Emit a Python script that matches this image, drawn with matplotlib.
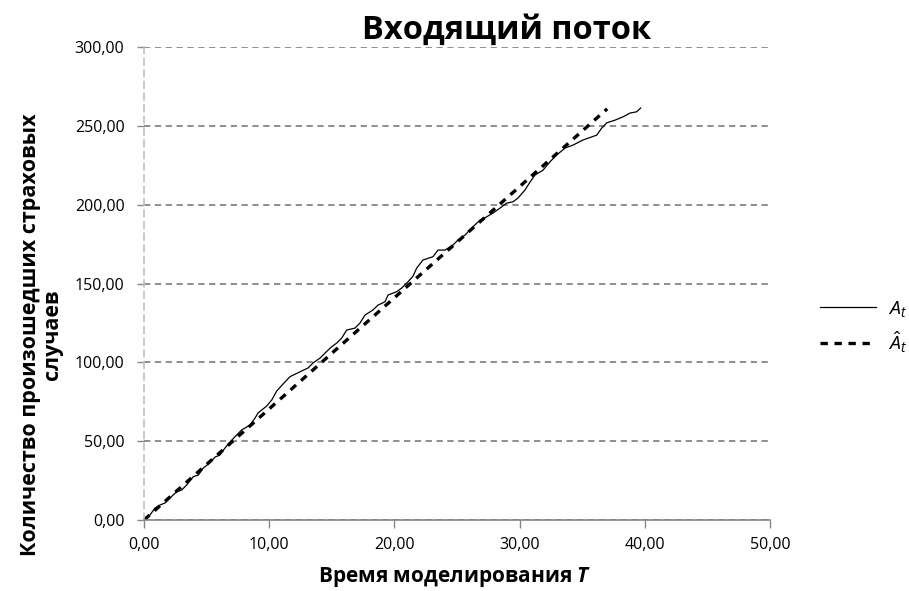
import numpy as np
import matplotlib.pyplot as plt
from matplotlib.ticker import FuncFormatter

t_obs = [0, 0.22, 0.48, 0.88, 1.28, 1.68, 2.08, 2.61, 3.01, 3.41, 3.94, 4.34, 4.74,
         5.27, 5.67, 6.07, 6.47, 6.87, 7.40, 7.80, 8.47, 8.87, 9.11, 9.80, 10.20,
         10.60, 11.10, 11.66, 12.46, 13.10, 13.50, 14.06, 14.46, 14.99, 15.39, 15.79,
         16.19, 16.85, 17.25, 17.65, 18.29, 18.69, 19.25, 19.49, 20.18, 20.58, 21.09,
         21.49, 21.78, 22.28, 23.08, 23.48, 24.04, 24.68, 25.08, 25.64, 26.17, 26.84,
         27.37, 27.88, 28.43, 28.97, 29.47, 29.87, 30.43, 30.83, 31.23, 31.87, 32.43,
         32.96, 33.63, 34.27, 35.06, 36.16, 36.56, 36.96, 37.62, 38.26, 38.82, 39.35, 39.67]
a_obs = [0, 1.7, 3.2, 7.6, 9.5, 10.8, 14.0, 17.9, 19.0, 22.2, 27.5, 28.5, 33.0,
         36.3, 39.9, 41.2, 45.7, 49.5, 53.9, 57.1, 60.2, 64.7, 67.9, 72.3, 76.1,
         81.8, 86.2, 90.9, 94.0, 96.4, 99.6, 102.7, 105.9, 109.9, 112.2, 115.4,
         120.5, 121.7, 124.9, 130.0, 133.2, 136.3, 138.4, 142.7, 144.8, 147.1, 151.1,
         154.7, 159.8, 164.9, 167.0, 171.2, 171.2, 174.4, 177.6, 180.7, 185.2, 190.2,
         192.3, 194.7, 197.8, 201.0, 201.8, 204.2, 209.3, 214.3, 218.8, 221.9, 227.2,
         231.5, 235.9, 237.8, 241.0, 244.1, 248.6, 251.9, 253.6, 255.7, 258.1, 258.9, 261.3]

# Expected count A_hat_t (straight line)
t_exp = [0, 37.0]
a_exp = [0, 260.8]

plt.rcParams['font.family'] = ['Open Sans', 'DejaVu Sans']
plt.rcParams['mathtext.fontset'] = 'custom'
plt.rcParams['mathtext.it'] = 'Open Sans:italic'
plt.rcParams['mathtext.bf'] = 'Open Sans:bold:italic'
plt.rcParams['mathtext.rm'] = 'Open Sans'

fig = plt.figure(figsize=(9.09, 5.91), dpi=100)
ax = fig.add_axes([144 / 909, 1 - 520 / 591, 626 / 909, 473 / 591])

ax.plot(t_obs, a_obs, color='black', linewidth=0.9, label='$A_t$')
ax.plot(t_exp, a_exp, color='black', linewidth=2.4, dashes=(2.2, 2.0), label=r'$\hat{A}_t$')

ax.set_xlim(0, 50)
ax.set_ylim(0, 300)
ax.set_xticks(np.arange(0, 51, 10))
ax.set_yticks(np.arange(0, 301, 50))
fmt = FuncFormatter(lambda v, p: f'{v:.2f}'.replace('.', ','))
ax.xaxis.set_major_formatter(fmt)
ax.yaxis.set_major_formatter(fmt)
ax.tick_params(axis='both', labelsize=11.5, colors='#868686', labelcolor='black')
ax.tick_params(axis='x', length=6, width=1, direction='out', pad=6)
ax.tick_params(axis='y', length=5, width=1, direction='out', pad=9)

ax.yaxis.grid(True, color='#868686', linestyle=(0, (3.5, 2.5)), linewidth=1.3)
ax.set_axisbelow(True)
for s in ['top', 'right']:
    ax.spines[s].set_visible(False)
ax.spines['bottom'].set_color('#868686')
ax.spines['bottom'].set_linewidth(1.2)
ax.spines['left'].set_color('#c0c0c0')
ax.spines['left'].set_linestyle((0, (4, 3)))
ax.spines['left'].set_linewidth(1.2)

fig.text(507 / 909, 1 - 30 / 591, 'Входящий поток', ha='center', va='center',
         fontsize=23.5, fontweight='bold')
ax.set_xlabel('Время моделирования $\\mathbf{T}$', fontsize=15, fontweight='bold')
ax.xaxis.set_label_coords((455 - 144) / 626, -(565 - 520) / 473)
ax.set_ylabel('Количество произошедших страховых\nслучаев', fontsize=15.5,
              fontweight='bold', linespacing=1.05)
ax.yaxis.set_label_coords((63 - 144) / 626, (520 - 335) / 473)

ax.legend(loc='center left', bbox_to_anchor=(820 / 909, 1 - 327 / 591),
          bbox_transform=fig.transFigure, frameon=False, fontsize=14,
          handlelength=2.9, labelspacing=0.55, handletextpad=0.6,
          borderpad=0, borderaxespad=0)

fig.savefig('out.png', dpi=100)
